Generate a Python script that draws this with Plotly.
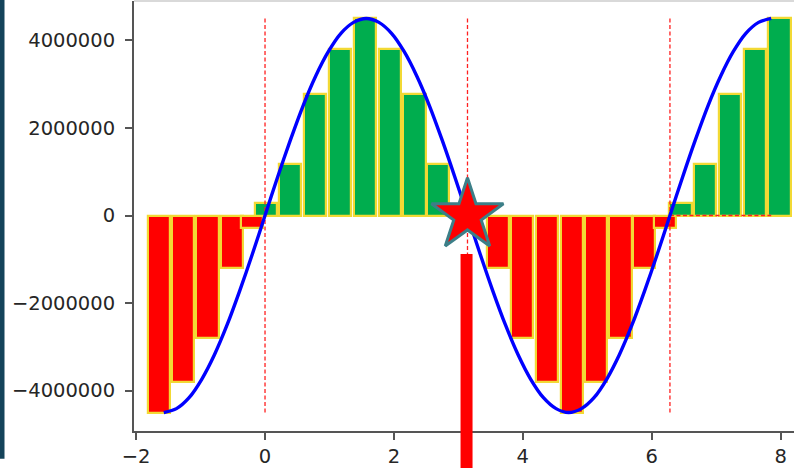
import plotly.graph_objects as go

# ---------------- data ----------------
curve_x = [-1.571, -1.374, -1.178, -0.982, -0.785, -0.589, -0.393, -0.196,
           0.0, 0.196, 0.393, 0.589, 0.785, 0.982, 1.178, 1.374,
           1.571, 1.767, 1.963, 2.160, 2.356, 2.553, 2.749, 2.945,
           3.142, 3.338, 3.534, 3.731, 3.927, 4.123, 4.320, 4.516,
           4.712, 4.909, 5.105, 5.301, 5.498, 5.694, 5.890, 6.087,
           6.283, 6.480, 6.676, 6.872, 7.069, 7.265, 7.461, 7.658, 7.854]
curve_y = [-4.5e6, -4.41e6, -4.16e6, -3.74e6, -3.18e6, -2.5e6, -1.72e6, -0.88e6,
           0.0, 0.88e6, 1.72e6, 2.5e6, 3.18e6, 3.74e6, 4.16e6, 4.41e6,
           4.5e6, 4.41e6, 4.16e6, 3.74e6, 3.18e6, 2.5e6, 1.72e6, 0.88e6,
           0.0, -0.88e6, -1.72e6, -2.5e6, -3.18e6, -3.74e6, -4.16e6, -4.41e6,
           -4.5e6, -4.41e6, -4.16e6, -3.74e6, -3.18e6, -2.5e6, -1.72e6, -0.88e6,
           0.0, 0.88e6, 1.72e6, 2.5e6, 3.18e6, 3.74e6, 4.16e6, 4.41e6, 4.5e6]

red_x = [-1.649, -1.275, -0.892, -0.517, -0.202,
         3.610, 3.990, 4.378, 4.758, 5.138, 5.516, 5.878, 6.206]
red_y = [-4.5e6, -3.8e6, -2.8e6, -1.2e6, -0.28e6,
         -1.2e6, -2.8e6, -3.8e6, -4.5e6, -3.8e6, -2.8e6, -1.2e6, -0.28e6]

green_x = [0.010, 0.382, 0.770, 1.166, 1.555, 1.940, 2.320, 2.684,
           6.447, 6.827, 7.215, 7.603, 7.983]
green_y = [0.28e6, 1.18e6, 2.78e6, 3.8e6, 4.5e6, 3.8e6, 2.78e6, 1.18e6,
           0.28e6, 1.18e6, 2.78e6, 3.8e6, 4.5e6]

vline_x = [0.0, 3.1416, 6.2832]
vline_y = [-4.5e6, 4.5e6]
hline_x = [6.2832, 7.854]
hline_y = 0.0

star_x = [3.1416]
star_y = [0.0]

stem_x = 3.127
stem_top = -0.88e6

x_ticks = [-2, 0, 2, 4, 6, 8]
x_tick_labels = ["\u22122", "0", "2", "4", "6", "8"]
y_ticks = [4e6, 2e6, 0, -2e6, -4e6]
y_tick_labels = ["4000000", "2000000", "0", "\u22122000000", "\u22124000000"]

# ---------------- layout geometry ----------------
W, H = 794, 468
L, R, T, B = 134, 0, 1, 34
x_range = [-2.033, 8.208]
y_range = [-4.921e6, 4.898e6]

BAR_EDGE = "#f2d934"
AX_COL = "#555555"
FONT = dict(family="DejaVu Sans", size=19.5, color="#262626")

fig = go.Figure()

# dashed reference lines
vx, vy = [], []
for v in vline_x:
    vx += [v, v, None]
    vy += [vline_y[0], vline_y[1], None]
fig.add_trace(go.Scatter(x=vx, y=vy, mode="lines",
                         line=dict(color="#ff2020", width=1.3, dash="4px,2.5px"),
                         hoverinfo="skip", showlegend=False))
fig.add_trace(go.Scatter(x=hline_x, y=[hline_y, hline_y], mode="lines",
                         line=dict(color="#ff2020", width=1.3, dash="4px,2.5px"),
                         hoverinfo="skip", showlegend=False))

# sine-like curve
fig.add_trace(go.Scatter(x=curve_x, y=curve_y, mode="lines",
                         line=dict(color="#0000ff", width=3.4, shape="spline", smoothing=0.8),
                         showlegend=False))

# bars
fig.add_trace(go.Bar(x=red_x, y=red_y, width=0.345,
                     marker=dict(color="#ff0000", line=dict(color=BAR_EDGE, width=2.2)),
                     showlegend=False))
fig.add_trace(go.Bar(x=green_x, y=green_y, width=0.345,
                     marker=dict(color="#00ad4e", line=dict(color=BAR_EDGE, width=2.2)),
                     showlegend=False))

# star
fig.add_trace(go.Scatter(x=star_x, y=star_y, mode="markers",
                         marker=dict(symbol="star", size=54, color="#ff0000",
                                     line=dict(color="#3c7f88", width=3)),
                         showlegend=False))

# thick red stem (extends past the axes)
def xpaper(v):
    return (v - x_range[0]) / (x_range[1] - x_range[0])

def ypaper(v):
    return (v - y_range[0]) / (y_range[1] - y_range[0])

plot_w = W - L - R
plot_h = H - T - B
fig.add_shape(type="line", xref="paper", yref="paper",
              x0=xpaper(stem_x), x1=xpaper(stem_x),
              y0=ypaper(stem_top), y1=-0.3,
              line=dict(color="#ff0000", width=12), layer="above")

# top spine (light)
fig.add_shape(type="line", xref="paper", yref="paper", x0=0, x1=1, y0=1, y1=1,
              line=dict(color="#cccccc", width=1.5), layer="above")

# dark strip at the left edge of the screenshot
fig.add_shape(type="rect", xref="paper", yref="paper",
              x0=(0 - L) / plot_w, x1=(4.5 - L) / plot_w,
              y0=(H - B - 462) / plot_h, y1=(H - B + 5) / plot_h,
              fillcolor="#14435a", line=dict(width=0), layer="above")

fig.update_layout(
    width=W, height=H, autosize=False,
    margin=dict(l=L, r=R, t=T, b=B, pad=0),
    paper_bgcolor="white", plot_bgcolor="white",
    barmode="overlay", bargap=0,
    showlegend=False,
    font=FONT,
)
fig.update_xaxes(range=x_range, tickvals=x_ticks, ticktext=x_tick_labels,
                 showgrid=False, zeroline=False, showline=True, linecolor=AX_COL,
                 linewidth=2, ticks="outside", ticklen=7, tickwidth=1.6,
                 tickcolor=AX_COL, tickfont=FONT)
fig.update_yaxes(range=y_range, tickvals=y_ticks, ticktext=y_tick_labels,
                 showgrid=False, zeroline=False, showline=True, linecolor=AX_COL,
                 linewidth=2, ticks="outside", ticklen=7, tickwidth=1.6,
                 tickcolor=AX_COL, tickfont=FONT, ticklabelstandoff=6)

fig.write_html("out.html")
